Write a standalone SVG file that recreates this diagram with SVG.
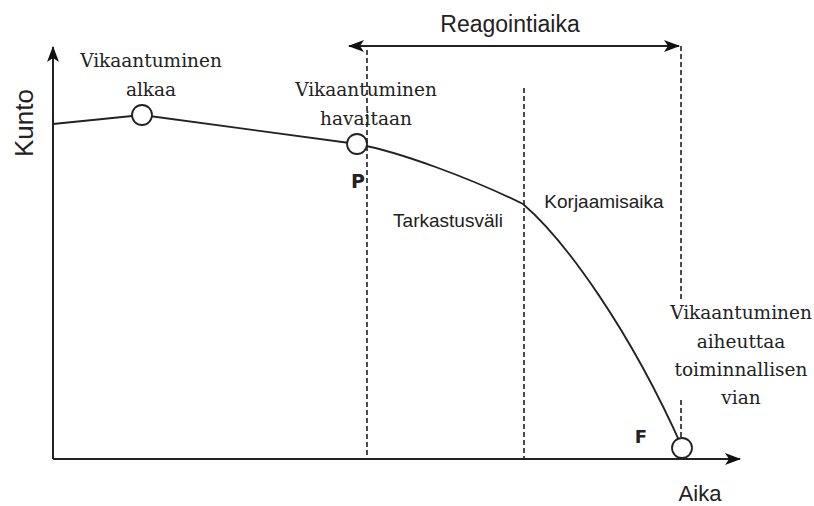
<svg xmlns="http://www.w3.org/2000/svg" width="814" height="506" viewBox="0 0 814 506">
<style>
.ax{stroke:#222;stroke-width:2;fill:none}
.dash{stroke:#111;stroke-width:1.5;stroke-dasharray:5,3;fill:none}
.curve{stroke:#222;stroke-width:1.8;fill:none}
.pt{fill:#fff;stroke:#222;stroke-width:1.8}
.serif{font-family:"DejaVu Serif","Liberation Serif",serif;font-size:18.5px;fill:#222;text-anchor:middle}
.sans{font-family:"Liberation Sans",Arial,sans-serif;fill:#222;text-anchor:middle}
.bold{font-family:"DejaVu Sans","Liberation Sans",sans-serif;font-weight:bold;fill:#222;text-anchor:middle}
</style>
<defs>
<marker id="arr" viewBox="0 0 16 12" refX="15" refY="6" markerWidth="16" markerHeight="12" markerUnits="userSpaceOnUse" orient="auto-start-reverse">
<path d="M0,0 L16,6 L0,12 L4,6 z" fill="#111"/>
</marker>
</defs>
<rect width="814" height="506" fill="#fff"/>
<g id="connectors">
<path class="dash" d="M367,50 V459"/>
<path class="dash" d="M524,88 V459"/>
<path class="dash" d="M681,46 V302"/>
<path class="dash" d="M681,400 V437"/>
<path class="ax" d="M53,459 V47" marker-end="url(#arr)"/>
<path class="ax" d="M53,459 H740" marker-end="url(#arr)"/>
<path class="ax" d="M349,46 H679" marker-start="url(#arr)" marker-end="url(#arr)"/>
<path class="curve" d="M53,124 L142,115 L357,144 C400,152 470,178 523,204 C565,240 630,330 682,447"/>
</g>
<g id="start"><circle class="pt" cx="142" cy="115" r="10"/></g>
<g id="P"><circle class="pt" cx="357" cy="144" r="10"/></g>
<g id="F"><circle class="pt" cx="682" cy="448" r="10"/></g>
<g id="labels">
<text class="sans" font-size="23" x="510" y="32">Reagointiaika</text>
<text class="sans" font-size="26" transform="translate(33,123) rotate(-90)">Kunto</text>
<text class="sans" font-size="22" x="700" y="501">Aika</text>
<text class="serif" x="151" y="67">Vikaantuminen</text>
<text class="serif" x="151" y="96">alkaa</text>
<text class="serif" x="366" y="96">Vikaantuminen</text>
<text class="serif" x="366" y="125">havaitaan</text>
<text class="serif" x="741" y="319">Vikaantuminen</text>
<text class="serif" x="741" y="348">aiheuttaa</text>
<text class="serif" x="741" y="376">toiminnallisen</text>
<text class="serif" x="741" y="404">vian</text>
<text class="bold" font-size="19" x="358" y="188">P</text>
<text class="bold" font-size="18" x="641" y="443">F</text>
<text class="sans" font-size="19" x="448" y="227">Tarkastusväli</text>
<text class="sans" font-size="19" x="604" y="208">Korjaamisaika</text>
</g>
</svg>
